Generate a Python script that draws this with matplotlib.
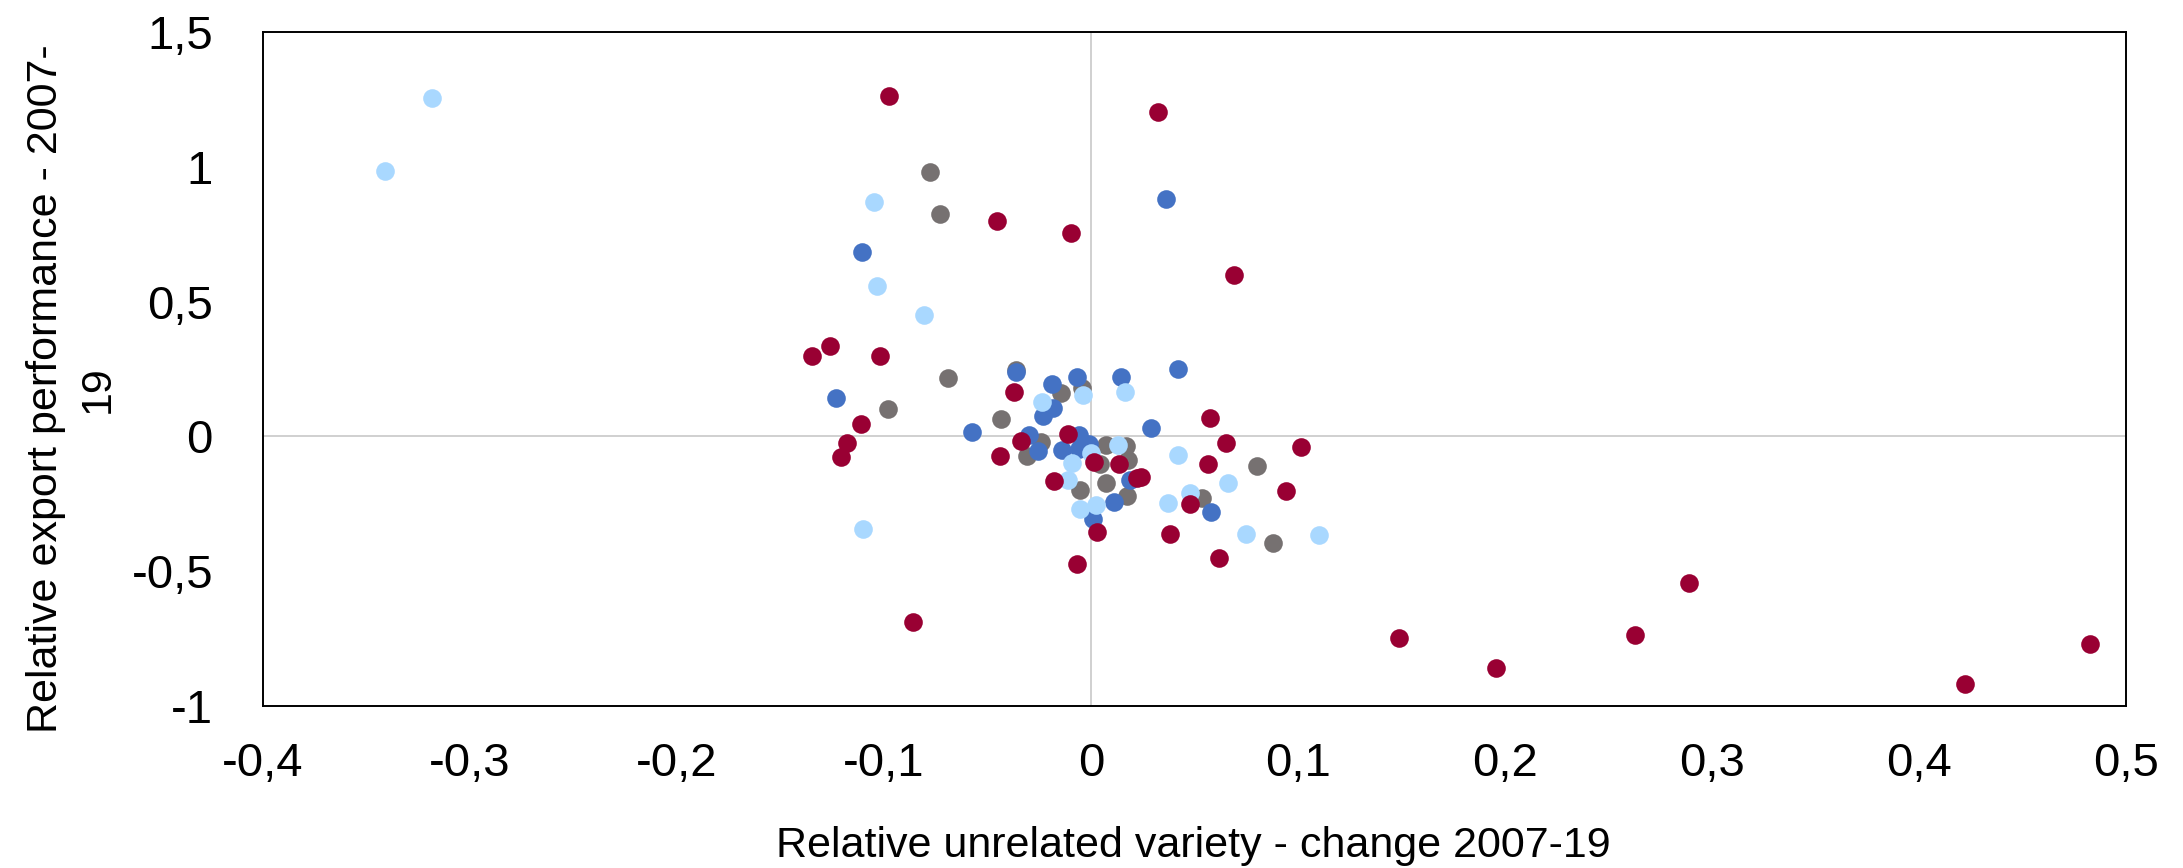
import matplotlib
matplotlib.use("Agg")
import matplotlib.pyplot as plt
from matplotlib.ticker import FuncFormatter, MultipleLocator

# series values (x = change in unrelated variety, y = export performance)
gray_x = [-0.0777, -0.0729, -0.069, -0.098, -0.0433, -0.036, -0.0143, -0.0043, -0.024, -0.031,
          0.0071, 0.017, 0.018, 0.0042, 0.0071, -0.0055, 0.0174, 0.080, 0.0536, 0.088]
gray_y = [0.982, 0.825, 0.216, 0.100, 0.065, 0.245, 0.161, 0.178, -0.020, -0.073,
          -0.033, -0.034, -0.086, -0.103, -0.171, -0.197, -0.220, -0.109, -0.227, -0.397]

blue_x = [0.036, -0.1106, -0.123, -0.0575, -0.036, -0.0187, -0.023, -0.0185, -0.030, -0.0254,
          -0.014, -0.0066, 0.0147, 0.042, 0.0288, -0.006, -0.001, -0.0058, 0.0187, 0.011,
          0.001, 0.058]
blue_y = [0.880, 0.685, 0.144, 0.017, 0.240, 0.196, 0.075, 0.104, 0.004, -0.054,
          -0.051, 0.221, 0.221, 0.250, 0.033, 0.004, -0.029, -0.045, -0.162, -0.245,
          -0.308, -0.281]

light_x = [-0.341, -0.3185, -0.105, -0.1032, -0.0807, -0.110, -0.0235, -0.0037, 0.0163, 0.0002,
           0.013, -0.009, -0.011, -0.0055, 0.0026, 0.0419, 0.066, 0.048, 0.037, 0.0747, 0.110]
light_y = [0.984, 1.257, 0.869, 0.557, 0.452, -0.345, 0.127, 0.153, 0.164, -0.061,
           -0.031, -0.097, -0.162, -0.269, -0.255, -0.068, -0.173, -0.209, -0.248, -0.362, -0.364]

red_x = [-0.0977, 0.0325, -0.0453, -0.0098, 0.0693, -0.135, -0.126, -0.102, -0.111, -0.118,
         -0.121, -0.044, -0.037, -0.034, -0.018, -0.0113, 0.0016, 0.0137, 0.022, 0.0243,
         0.003, -0.0066, 0.0575, 0.065, 0.1016, 0.0567, 0.094, 0.048, 0.038, 0.062,
         -0.086, 0.1487, 0.1958, 0.2629, 0.2888, 0.4222, 0.4827]
red_y = [1.261, 1.202, 0.800, 0.754, 0.600, 0.298, 0.337, 0.297, 0.046, -0.025,
         -0.078, -0.073, 0.164, -0.017, -0.167, 0.008, -0.094, -0.104, -0.156, -0.150,
         -0.356, -0.475, 0.069, -0.026, -0.040, -0.103, -0.201, -0.250, -0.361, -0.451,
         -0.690, -0.749, -0.860, -0.737, -0.543, -0.917, -0.771]

GRAY = "#767171"
BLUE = "#4472C4"
LIGHT = "#A9D8FF"
RED = "#990033"

plt.rcParams["font.family"] = ["Liberation Sans", "DejaVu Sans"]
TICK_FS = 34
LABEL_FS = 31


def comma(v, pos):
    s = f"{v:.1f}".rstrip("0").rstrip(".")
    if s in ("-0", ""):
        s = "0"
    return s.replace(".", ",")


fig = plt.figure(figsize=(21.83, 8.68), dpi=100)
ax = fig.add_axes([263 / 2183, 1 - 706 / 868, (2126 - 263) / 2183, (706 - 32) / 868])

ax.axhline(0, color="#C8C8C8", lw=1.2, zorder=1)
ax.axvline(0, color="#C8C8C8", lw=1.2, zorder=1)

s = 180
ax.scatter(gray_x, gray_y, s=s, color=GRAY, linewidths=0, zorder=2)
ax.scatter(blue_x, blue_y, s=s, color=BLUE, linewidths=0, zorder=3)
ax.scatter(light_x, light_y, s=s, color=LIGHT, linewidths=0, zorder=4)
ax.scatter(red_x, red_y, s=s, color=RED, linewidths=0, zorder=5)

ax.set_xlim(-0.4, 0.5)
ax.set_ylim(-1, 1.5)
ax.xaxis.set_major_locator(MultipleLocator(0.1))
ax.yaxis.set_major_locator(MultipleLocator(0.5))
ax.xaxis.set_major_formatter(FuncFormatter(comma))
ax.yaxis.set_major_formatter(FuncFormatter(comma))
ax.tick_params(axis="x", length=0, pad=26, labelsize=TICK_FS)
ax.tick_params(axis="y", length=0, pad=36, labelsize=TICK_FS)

for sp in ax.spines.values():
    sp.set_color("black")
    sp.set_linewidth(1.4)

fig.text(1193 / 2183, 1 - 857 / 868, "Relative unrelated variety - change 2007-19",
         ha="center", va="baseline", fontsize=LABEL_FS)
fig.text(72 / 2183, 1 - 389 / 868, "Relative export performance - 2007-\n19",
         ha="center", va="center", rotation=90, fontsize=LABEL_FS, multialignment="center",
         linespacing=1.4)

fig.savefig("out.png", dpi=100)
